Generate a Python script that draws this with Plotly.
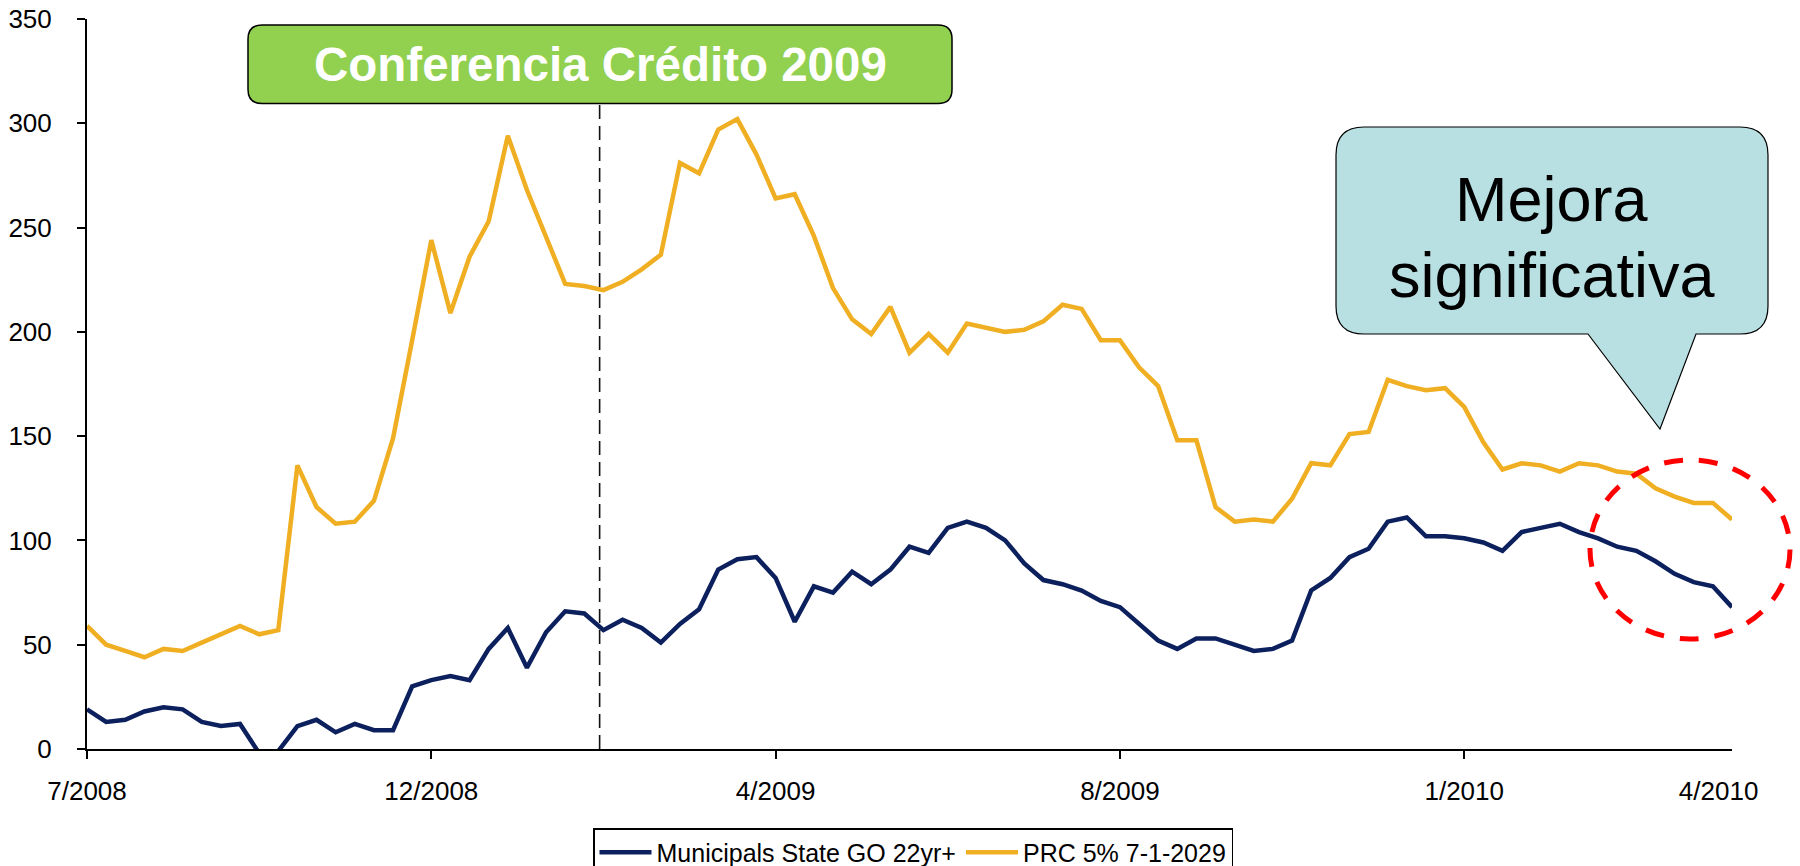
import plotly.graph_objects as go

# ---------------- data ----------------
series_names = ["Municipals State GO 22yr+", "PRC 5% 7-1-2029"]
municipals = [19, 13, 14, 18, 20, 19, 13, 11, 12, -2,
              -1, 11, 14, 8, 12, 9, 9, 30, 33, 35,
              33, 48, 58, 39, 56, 66, 65, 57, 62, 58,
              51, 60, 67, 86, 91, 92, 82, 61, 78, 75,
              85, 79, 86, 97, 94, 106, 109, 106, 100, 89,
              81, 79, 76, 71, 68, 60, 52, 48, 53, 53,
              50, 47, 48, 52, 76, 82, 92, 96, 109, 111,
              102, 102, 101, 99, 95, 104, 106, 108, 104, 101,
              97, 95, 90, 84, 80, 78, 68]
prc = [59, 50, 47, 44, 48, 47, 51, 55, 59, 55,
       57, 136, 116, 108, 109, 119, 149, 196, 244, 209,
       236, 253, 294, 268, 245, 223, 222, 220, 224, 230,
       237, 281, 276, 297, 302, 285, 264, 266, 246, 221,
       206, 199, 212, 190, 199, 190, 204, 202, 200, 201,
       205, 213, 211, 196, 196, 183, 174, 148, 148, 116,
       109, 110, 109, 120, 137, 136, 151, 152, 177, 174,
       172, 173, 164, 147, 134, 137, 136, 133, 137, 136,
       133, 132, 125, 121, 118, 118, 110]
tick_labels = ["7/2008", "12/2008", "4/2009", "8/2009", "1/2010", "4/2010"]
tick_positions = [0, 18, 36, 54, 72, 85.3]
tick_marks = [0, 18, 36, 54, 72]
event_position = 26.8
y_ticks = [0, 50, 100, 150, 200, 250, 300, 350]

x_idx = list(range(len(prc)))

# ---------------- layout geometry ----------------
FIG_W, FIG_H = 1800, 866
ML, MR, MT, MB = 87, 68, 19, 117
L, R, T, B = ML, FIG_W - MR, MT, FIG_H - MB
W, H = R - L, B - T


def px(x):
    return (x - L) / W


def py(y):
    return (B - y) / H


def path_from(cmds):
    out = []
    for c in cmds:
        op = c[0]
        pts = c[1:]
        s = op
        s += " ".join(f"{px(pts[i]):.5f},{py(pts[i + 1]):.5f}" for i in range(0, len(pts), 2))
        out.append(s)
    return " ".join(out) + " Z"


def rounded_rect(x0, y0, x1, y1, r, pointer=None):
    cmds = [("M", x0 + r, y0), ("L", x1 - r, y0), ("Q", x1, y0, x1, y0 + r),
            ("L", x1, y1 - r), ("Q", x1, y1, x1 - r, y1)]
    if pointer:
        b1, b2, tx, ty = pointer
        cmds += [("L", b2, y1), ("L", tx, ty), ("L", b1, y1)]
    cmds += [("L", x0 + r, y1), ("Q", x0, y1, x0, y1 - r),
             ("L", x0, y0 + r), ("Q", x0, y0, x0 + r, y0)]
    return path_from(cmds)


FONT = "Liberation Sans, Arial, sans-serif"
NAVY = "#0C205E"
GOLD = "#F0AF22"

fig = go.Figure()
fig.add_trace(go.Scatter(x=x_idx, y=municipals, mode="lines", name=series_names[0],
                         line=dict(color=NAVY, width=4.5)))
fig.add_trace(go.Scatter(x=x_idx, y=prc, mode="lines", name=series_names[1],
                         line=dict(color=GOLD, width=4.5)))

shapes = [
    dict(type="line", xref="x", yref="paper", x0=event_position, x1=event_position,
         y0=0, y1=py(103.5), line=dict(color="#111111", width=1.6, dash="14px,7px"), layer="above"),
    dict(type="path", xref="paper", yref="paper",
         path=rounded_rect(248, 25, 952, 103.5, 14),
         fillcolor="#92D050", line=dict(color="black", width=1.5), layer="above"),
    dict(type="path", xref="paper", yref="paper",
         path=rounded_rect(1336, 127, 1768, 334, 28, pointer=(1588, 1696, 1660, 429)),
         fillcolor="#B8DFE2", line=dict(color="black", width=1.2), layer="above"),
    dict(type="circle", xref="paper", yref="paper",
         x0=px(1590), x1=px(1790), y0=py(639), y1=py(460),
         line=dict(color="#FF0000", width=5, dash="19px,16px"), layer="above"),
]

annotations = [
    dict(text="<b>Conferencia Crédito 2009</b>", xref="paper", yref="paper",
         x=px(600), y=py(65), xanchor="center", yanchor="middle", showarrow=False,
         font=dict(family=FONT, size=47.5, color="white")),
    dict(text="Mejora", xref="paper", yref="paper",
         x=px(1552), y=py(199), xanchor="center", yanchor="middle", showarrow=False,
         font=dict(family=FONT, size=63, color="black")),
    dict(text="significativa", xref="paper", yref="paper",
         x=px(1552), y=py(275), xanchor="center", yanchor="middle", showarrow=False,
         font=dict(family=FONT, size=63, color="black")),
]

fig.update_layout(
    width=FIG_W, height=FIG_H,
    margin=dict(l=ML, r=MR, t=MT, b=MB, pad=0, autoexpand=False),
    paper_bgcolor="white", plot_bgcolor="white",
    font=dict(family=FONT, color="black"),
    shapes=shapes, annotations=annotations,
    showlegend=True,
    legend=dict(orientation="h", xref="container", yref="container",
                x=593 / FIG_W, xanchor="left", y=1 - 828 / FIG_H, yanchor="top",
                bordercolor="black", borderwidth=1.5, bgcolor="white",
                font=dict(family=FONT, size=25, color="black"), itemwidth=52),
    xaxis=dict(range=[0, 86], showgrid=False, zeroline=False,
               showline=True, linecolor="black", linewidth=2,
               tickmode="array", tickvals=tick_positions, ticktext=tick_labels,
               ticks="", ticklabelstandoff=18, automargin=False,
               tickfont=dict(family=FONT, size=26, color="black"),
               minor=dict(tickmode="array", tickvals=tick_marks, ticks="outside",
                          ticklen=8, tickwidth=2, tickcolor="black", showgrid=False)),
    yaxis=dict(range=[0, 350], showgrid=False, zeroline=False,
               showline=True, linecolor="black", linewidth=2,
               tickmode="array", tickvals=y_ticks, automargin=False,
               ticks="outside", ticklen=8, tickwidth=2, tickcolor="black",
               ticklabelstandoff=20,
               tickfont=dict(family=FONT, size=26, color="black")),
)

fig.write_html("out.html", config={"displayModeBar": False},
               post_script="document.body.style.margin='0';document.body.style.overflow='hidden';")
